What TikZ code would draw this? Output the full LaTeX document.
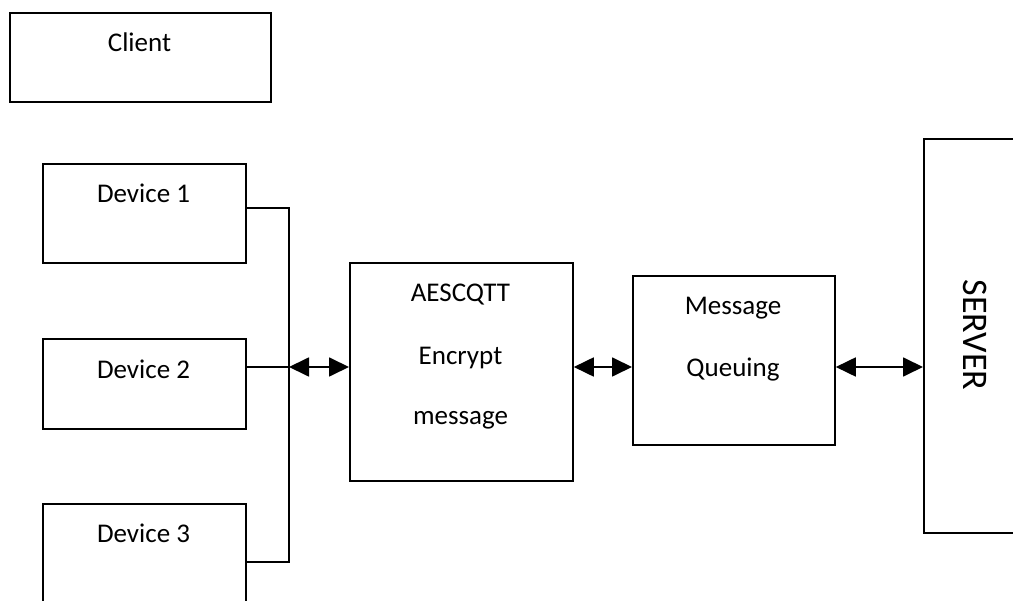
\documentclass[tikz,border=0pt]{standalone}
\usepackage{fontspec}
\setmainfont{Carlito}
\usetikzlibrary{arrows.meta}
\begin{document}
\begin{tikzpicture}[x=1pt,y=-1pt,
  box/.style={draw, line width=1.8pt, inner sep=0pt, anchor=north west},
  lbl/.style={font=\fontsize{27}{31}\selectfont, inner sep=0pt, anchor=base},
  wire/.style={line width=1.8pt},
  biarrow/.style={line width=1.8pt, {Triangle[length=20pt,width=19pt]}-{Triangle[length=20pt,width=19pt]}}]
\useasboundingbox (0,0) rectangle (1013,601);
\clip (0,0) rectangle (1013,601);
% boxes
\node[box, minimum width=261pt, minimum height=89pt] (client) at (9,12) {};
\node[box, minimum width=203pt, minimum height=99pt] (d1) at (42,163) {};
\node[box, minimum width=203pt, minimum height=90pt] (d2) at (42,338) {};
\node[box, minimum width=203pt, minimum height=140pt] (d3) at (42,503) {};
\node[box, minimum width=223pt, minimum height=218pt] (aes) at (349,262) {};
\node[box, minimum width=202pt, minimum height=169pt] (mq) at (632,275) {};
\node[box, minimum width=130pt, minimum height=394pt] (srv) at (923,138) {};
% labels
\node[lbl] (clientT) at (139.5,52) {Client};
\node[lbl] (d1T) at (143.5,203) {Device 1};
\node[lbl] (d2T) at (143.5,379) {Device 2};
\node[lbl] (d3T) at (143.5,543) {Device 3};
\node[lbl] (aesT1) at (460.5,302) {AESCQTT};
\node[lbl] (aesT2) at (460.5,365) {Encrypt};
\node[lbl] (aesT3) at (460.5,425) {message};
\node[lbl] (mqT1) at (733,315) {Message};
\node[lbl] (mqT2) at (733,377) {Queuing};
\node[font=\fontsize{36}{40}\selectfont, inner sep=0pt, rotate=-90, anchor=base] (srvT) at (963,335) {SERVER};
% bus
\coordinate (b1) at (289,208);
\coordinate (b2) at (289,367);
\coordinate (b3) at (289,562);
\draw[wire] (d1.east |- b1) -- (b1) -- (b3) -- (d3.east |- b3);
\draw[wire] (d2.east |- b2) -- (b2);
% arrows
\draw[biarrow] (b2) -- (aes.west |- b2);
\draw[biarrow] (aes.east |- b2) -- (mq.west |- b2);
\draw[biarrow] (mq.east |- b2) -- (srv.west |- b2);
\end{tikzpicture}
\end{document}
